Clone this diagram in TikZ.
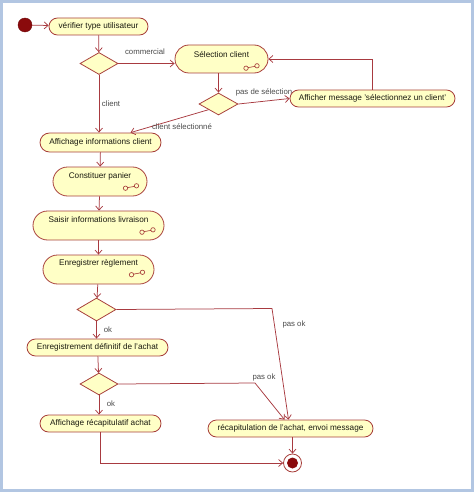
\documentclass[tikz,border=0pt]{standalone}
\usepackage{fontspec}
\setmainfont{Liberation Sans}
\usetikzlibrary{shapes.misc,shapes.geometric,arrows.meta}
\definecolor{actfill}{HTML}{FFFFC6}
\definecolor{actborder}{HTML}{A8403C}
\definecolor{flowcol}{HTML}{A83A40}
\definecolor{startcol}{HTML}{8A0A0C}
\definecolor{labcol}{HTML}{4A4A4A}
\definecolor{txtcol}{HTML}{1A1A10}
\definecolor{framecol}{HTML}{B2C6E2}
\newcommand{\nodefont}{\fontsize{8.2}{9}\selectfont}
\newcommand{\labfont}{\fontsize{7.8}{9}\selectfont}
\tikzset{
  act/.style={rounded rectangle, draw=actborder, fill=actfill, line width=0.8pt,
    inner sep=0pt, font=\nodefont, text=txtcol},
  ntext/.style={font=\nodefont, text=txtcol, inner sep=0pt},
  dec/.style={diamond, draw=actborder, fill=actfill, line width=0.8pt, inner sep=0pt,
    minimum width=38pt, minimum height=22pt},
  flow/.style={draw=flowcol, line width=0.75pt, -{Straight Barb[length=4pt,width=7pt]}},
  elab/.style={font=\labfont, text=labcol, inner sep=0pt},
  subicon/.pic={\draw[actborder, line width=0.65pt] (-5.5,1.2) circle (2.2pt) (5.5,-1.2) circle (2.2pt) (-3.4,0.6) -- (3.4,-0.6);}
}
\begin{document}
\begin{tikzpicture}[x=1pt,y=-1pt]
\useasboundingbox (0,0) rectangle (474,492);
\draw[framecol, line width=3pt] (1.5,1.5) rectangle (472.5,490.5);

% start
\node[circle, fill=startcol, draw=startcol!80!black, line width=0.4pt, minimum size=14pt, inner sep=0pt] (start) at (25,25) {};
\node[act, minimum width=99pt, minimum height=17pt] (verif) at (98.5,26.5) {vérifier type utilisateur};
\node[dec] (d1) at (99,63.5) {};

\node[act, minimum width=93pt, minimum height=28pt] (sel) at (221.5,59) {};
\node[ntext] (selt) at ([yshift=4pt]sel.center) {Sélection client};
\pic at (251.5,67) {subicon};

\node[dec, minimum width=39pt] (d2) at (218.5,104) {};
\node[elab] (lpas) at (264,92) {pas de sélection};
\node[act, minimum width=165pt, minimum height=17pt] (aff) at (372.5,98.5) {Afficher message 'sélectionnez un client'};

\node[act, minimum width=121pt, minimum height=19pt] (info) at (100.5,142.5) {Affichage informations client};

\node[act, minimum width=94pt, minimum height=29pt] (const) at (100,181.5) {};
\node[ntext] (constt) at ([yshift=5.5pt]const.center) {Constituer panier};
\pic at (131,187) {subicon};

\node[act, minimum width=131pt, minimum height=29pt] (saisir) at (98.5,225.5) {};
\node[ntext] (saisirt) at ([yshift=5.5pt]saisir.center) {Saisir informations livraison};
\pic at (147.5,231) {subicon};

\node[act, minimum width=111pt, minimum height=29pt] (enreg) at (98.5,269.5) {};
\node[ntext] (enregt) at ([yshift=6pt]enreg.center) {Enregistrer règlement};
\pic at (137,273.5) {subicon};

\node[dec, minimum width=39pt, minimum height=23pt] (d3) at (96.5,309.5) {};
\node[act, minimum width=141pt, minimum height=17pt] (def) at (97.5,347.5) {Enregistrement définitif de l'achat};
\node[dec] (d4) at (99,384) {};
\node[act, minimum width=121pt, minimum height=17pt] (recapa) at (100.5,423.5) {Affichage récapitulatif achat};
\node[act, minimum width=165pt, minimum height=17pt] (recap) at (290.5,428.5) {récapitulation de l'achat, envoi message};

% end
\node[circle, draw=actborder, fill=white, line width=0.8pt, minimum size=18pt, inner sep=0pt] (end) at (292.5,463) {};
\node[circle, fill=startcol, minimum size=11pt, inner sep=0pt] (endin) at (end.center) {};

\coordinate (p1) at (272,308.5);
\coordinate (p2) at (255,383);

% flows
\draw[flow] (start) -- (verif);
\draw[flow] (verif) -- (d1);
\draw[flow] (d1.east) -- (d1.east -| sel.west);
\node[elab] (lcom) at (145,52) {commercial};
\draw[flow] (d1.south) -- (d1.south |- info.north);
\node[elab] (lcli) at (111,104) {client};
\draw[flow] (d2.north |- sel.south) -- (d2.north);
\draw[flow] (d2.east) -- (aff.west);
\draw[flow] (aff.north) |- (sel.east);
\draw[flow] (d2.south west) -- ([xshift=30pt]info.north);
\node[elab] (lclisel) at (182,126.5) {client sélectionné};
\draw[flow] (info) -- (const);
\draw[flow] (const) -- (saisir);
\draw[flow] (saisir) -- (enreg);
\draw[flow] (enreg) -- (d3);
\draw[flow] (d3.east) -- (p1) -- ([xshift=-2pt]recap.north);
\node[elab] (lpas1) at (294,324) {pas ok};
\draw[flow] (d3.south) -- (d3.south |- def.north);
\node[elab] (lok1) at (108,330) {ok};
\draw[flow] (def) -- (d4);
\draw[flow] (d4.east) -- (p2) -- ([xshift=-6pt]recap.north);
\node[elab] (lpas2) at (264,377) {pas ok};
\draw[flow] (d4.south) -- (d4.south |- recapa.north);
\node[elab] (lok2) at (111,404) {ok};
\draw[flow] (recap.south -| end.north) -- (end.north);
\draw[flow] (recapa.south) |- (end.west);
\end{tikzpicture}
\end{document}
